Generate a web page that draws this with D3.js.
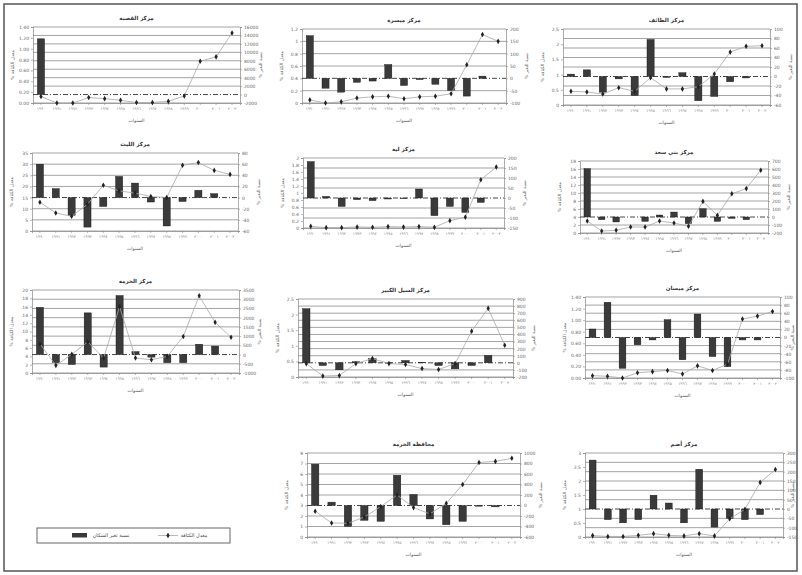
<!DOCTYPE html>
<html>
<head>
<meta charset="utf-8">
<script src="https://cdn.jsdelivr.net/npm/d3@7"></script>
<style>
  body { margin: 0; background: #fff; }
  svg { display: block; }
  text { font-family: "DejaVu Sans", sans-serif; }
  .ar { direction: rtl; unicode-bidi: plaintext; }
</style>
</head>
<body>
<div id="chart"></div>
<script>
// السنوات (محور س)
var years = ["١٩٩٠", "١٩٩١", "١٩٩٢", "١٩٩٣", "١٩٩٤", "١٩٩٥", "١٩٩٦", "١٩٩٧", "١٩٩٨", "١٩٩٩", "٢٠٠٠", "٢٠٠١", "٢٠٠٢"];

var titles = ["مركز القصبة", "مركز ميسرة", "مركز الطائف", "مركز الليث", "مركز لية", "مركز بني سعد",
              "مركز الخرمة", "مركز السيل الكبير", "مركز ميسان", "محافظة الخرمة", "مركز أضم"];

// المحور الأيسر: معدل الكثافة
var leftTicks = [
  [0, 0.2, 0.4, 0.6, 0.8, 1.0, 1.2, 1.4],
  [0, 0.2, 0.4, 0.6, 0.8, 1, 1.2],
  [0, 0.5, 1, 1.5, 2, 2.5],
  [0, 5, 10, 15, 20, 25, 30, 35],
  [0, 0.2, 0.4, 0.6, 0.8, 1, 1.2, 1.4, 1.6, 1.8, 2],
  [0, 2, 4, 6, 8, 10, 12, 14, 16, 18],
  [0, 2, 4, 6, 8, 10, 12, 14, 16, 18, 20],
  [0, 0.5, 1, 1.5, 2, 2.5],
  [0, 0.2, 0.4, 0.6, 0.8, 1.0, 1.2, 1.4],
  [0, 1, 2, 3, 4, 5, 6, 7, 8],
  [0, 0.5, 1, 1.5, 2, 2.5, 3]
];
var leftFormat = [".2f", "", "", "", "", "", "", "", ".2f", "", ""];

// المحور الأيمن: نسبة التغير %
var rightTicks = [
  [-2000, 0, 2000, 4000, 6000, 8000, 10000, 12000, 14000, 16000],
  [-100, -50, 0, 50, 100, 150, 200],
  [-60, -40, -20, 0, 20, 40, 60, 80, 100],
  [-60, -40, -20, 0, 20, 40, 60, 80],
  [-150, -100, -50, 0, 50, 100, 150, 200],
  [-200, -100, 0, 100, 200, 300, 400, 500, 600, 700],
  [-1000, -500, 0, 500, 1000, 1500, 2000, 2500, 3000, 3500],
  [-200, -100, 0, 100, 200, 300, 400, 500, 600, 700, 800, 900],
  [-100, -80, -60, -40, -20, 0, 20, 40, 60, 80, 100],
  [-600, -400, -200, 0, 200, 400, 600, 800, 1000],
  [-150, -100, -50, 0, 50, 100, 150, 200, 250, 300]
];

// نسبة تغير السكان (أعمدة، المحور الأيمن)
var barValues = [
  [13200, 0, 0, 0, 0, 0, 0, 0, 0, 0, 0, 0, 0],
  [173, -40, -56, -16, -11, 56, -29, -5, -24, -49, -72, 9, 0],
  [5, 14, -33, -5, -40, 78, -2, 8, -51, -42, -11, -3, 0],
  [60, 16, -32, -53, -16, 38, 26, -8, -51, -7, 13, 7, 0],
  [182, 8, -42, -8, -13, -5, -3, 45, -88, -42, -72, -22, 0],
  [604, -33, -62, 0, -54, 25, 62, -83, 104, -54, -17, -33, 0],
  [2560, -440, -540, 2260, -680, 3200, 160, -140, -440, -440, 560, 460, 0],
  [764, -38, -99, 15, 57, -5, 33, 5, -38, -85, -38, 104, 0],
  [21, 87, -76, -18, -6, 44, -55, 58, -47, -72, -6, -6, 0],
  [787, 64, -397, -282, -301, 576, 211, -256, -365, -301, -13, -26, 0],
  [262, -57, -74, -57, 74, 32, -74, 213, -97, -50, -57, -30, 0]
];

// معدل الكثافة (خط، المحور الأيسر)
var lineValues = [
  [0.12, 0, 0, 0.1, 0.08, 0.05, 0.01, 0.01, 0.03, 0.13, 0.77, 0.85, 1.29],
  [0.05, 0, 0.02, 0.08, 0.1, 0.11, 0.07, 0.1, 0.11, 0.15, 0.62, 1.11, 1.0],
  [0.45, 0.43, 0.36, 0.57, 0.45, 0.9, 0.53, 0.53, 0.6, 1.02, 1.74, 1.93, 1.95],
  [12.9, 8.1, 6.6, 12, 20.5, 18, 17, 15.5, 15, 29.5, 30.7, 27.2, 25.4],
  [0.05, 0.01, 0.01, 0.03, 0.02, 0.04, 0.03, 0.04, 0.02, 0.21, 0.31, 1.38, 1.74],
  [3.0, 0.5, 0.67, 1.5, 1.5, 3.0, 2.5, 1.67, 7.9, 4.4, 9.8, 11.1, 15.7],
  [7, 1.84, 4.5, 7.5, 3.6, 16, 3.6, 3.2, 4, 8.8, 18.6, 12.2, 8.6],
  [0.43, 0.03, 0.05, 0.43, 0.59, 0.43, 0.4, 0.27, 0.24, 0.43, 1.47, 2.2, 1.02],
  [0.04, 0.03, 0.0, 0.09, 0.11, 0.13, 0.07, 0.21, 0.13, 0.24, 1.02, 1.07, 1.15],
  [2.46, 1.34, 1.3, 1.9, 2.9, 4.0, 2.8, 2.2, 3.2, 5.0, 7.1, 7.2, 7.5],
  [0.05, 0.02, 0.02, 0.06, 0.12, 0.06, 0.04, 0.12, 0.04, 0.65, 0.99, 1.95, 2.41]
];

var legendLabels = ["نسبة تغير السكان", "معدل الكثافة"];

// مواقع مناطق الرسم [x0, x1, y0, y1]
var boxes = [
  [33, 240, 27, 103], [302, 506, 29, 103], [563, 770, 29, 105],
  [32, 238, 153, 231], [303, 504, 158, 228], [580, 768, 161, 233],
  [32, 239, 290, 373], [298, 513, 299, 377], [585, 780, 297, 378],
  [307, 520, 453, 537], [585, 783, 453, 537]
];

var svg = d3.select("#chart")
            .append("svg")
            .attr("width", 802)
            .attr("height", 575);

// الإطار الخارجي
svg.append("rect")
   .attr("x", 4).attr("y", 4)
   .attr("width", 793).attr("height", 567)
   .attr("fill", "none")
   .attr("stroke", "#555")
   .attr("stroke-width", 1.5);

boxes.forEach(function(b, i) {
    var g = svg.append("g");

    var x = d3.scaleBand()
              .domain(years)
              .range([b[0], b[1]])
              .paddingInner(0.55)
              .paddingOuter(0.275);

    var yR = d3.scaleLinear().domain(d3.extent(rightTicks[i])).range([b[3], b[2]]);
    var yL = d3.scaleLinear().domain(d3.extent(leftTicks[i])).range([b[3], b[2]]);

    // خطوط الشبكة
    g.selectAll(".grid")
     .data(rightTicks[i].filter(function(d) { return d !== 0; }))
     .enter()
     .append("line")
     .attr("x1", b[0]).attr("x2", b[1])
     .attr("y1", function(d) { return yR(d); })
     .attr("y2", function(d) { return yR(d); })
     .attr("stroke", "#7d7d7d")
     .attr("stroke-width", 0.7);

    // المحاور
    var fmt = leftFormat[i] ? d3.format(leftFormat[i]) : function(d) { return String(d); };
    var axL = g.append("g")
               .attr("transform", "translate(" + b[0] + ",0)")
               .call(d3.axisLeft(yL).tickValues(leftTicks[i]).tickSize(2).tickPadding(2).tickFormat(fmt));
    var axR = g.append("g")
               .attr("transform", "translate(" + b[1] + ",0)")
               .call(d3.axisRight(yR).tickValues(rightTicks[i]).tickSize(2).tickPadding(2).tickFormat(function(d) { return String(d); }));
    var axB = g.append("g")
               .attr("transform", "translate(0," + b[3] + ")")
               .call(d3.axisBottom(x).tickSize(2).tickPadding(2));

    [axL, axR, axB].forEach(function(a) {
        a.selectAll("path").attr("stroke", "#888").attr("stroke-width", 0.7);
        a.selectAll("line").attr("stroke", "#888").attr("stroke-width", 0.6);
        a.selectAll("text").attr("fill", "#666").style("font-size", "4.5px");
    });
    axB.selectAll("text").style("font-size", "4px").attr("fill", "#888");

    // الأعمدة
    g.selectAll(".bar")
     .data(barValues[i])
     .enter()
     .append("rect")
     .attr("x", function(d, j) { return x(years[j]); })
     .attr("y", function(d) { return Math.min(yR(d), yR(0)); })
     .attr("width", x.bandwidth())
     .attr("height", function(d) { return Math.abs(yR(d) - yR(0)); })
     .attr("fill", "#3a3a3a")
     .attr("stroke", "#111")
     .attr("stroke-width", 0.4);

    // خط الصفر المتقطع
    g.append("line")
     .attr("x1", b[0]).attr("x2", b[1])
     .attr("y1", yR(0)).attr("y2", yR(0))
     .attr("stroke", "#333")
     .attr("stroke-width", 0.9)
     .attr("stroke-dasharray", "5,2,1,2");

    // خط معدل الكثافة
    var line = d3.line()
                 .x(function(d, j) { return x(years[j]) + x.bandwidth() / 2; })
                 .y(function(d) { return yL(d); });

    g.append("path")
     .datum(lineValues[i])
     .attr("d", line)
     .attr("fill", "none")
     .attr("stroke", "#a8a8a8")
     .attr("stroke-width", 0.8);

    g.selectAll(".pt")
     .data(lineValues[i])
     .enter()
     .append("path")
     .attr("transform", function(d, j) {
         return "translate(" + (x(years[j]) + x.bandwidth() / 2) + "," + yL(d) + ")";
     })
     .attr("d", d3.symbol().type(d3.symbolDiamond).size(9))
     .attr("fill", "#222");

    // العناوين
    var mid = (b[0] + b[1]) / 2;
    var midY = (b[2] + b[3]) / 2;

    g.append("text")
     .attr("class", "ar")
     .attr("x", mid).attr("y", b[2] - 7)
     .attr("text-anchor", "middle")
     .attr("fill", "#333")
     .style("font-size", "5.5px")
     .style("font-weight", "bold")
     .text(titles[i]);

    g.append("text")
     .attr("class", "ar")
     .attr("x", mid).attr("y", b[3] + 19)
     .attr("text-anchor", "middle")
     .attr("fill", "#555")
     .style("font-size", "4.5px")
     .text("السنوات");

    g.append("text")
     .attr("class", "ar")
     .attr("transform", "translate(" + (b[0] - 19) + "," + midY + ") rotate(-90)")
     .attr("text-anchor", "middle")
     .attr("fill", "#666")
     .style("font-size", "4.5px")
     .text("معدل الكثافة %");

    g.append("text")
     .attr("class", "ar")
     .attr("transform", "translate(" + Math.min(b[1] + 22, 794) + "," + midY + ") rotate(-90)")
     .attr("text-anchor", "middle")
     .attr("fill", "#666")
     .style("font-size", "4.5px")
     .text("نسبة التغير %");
});

// وسيلة الإيضاح
var lg = svg.append("g");
lg.append("rect")
  .attr("x", 37).attr("y", 528)
  .attr("width", 193).attr("height", 15)
  .attr("fill", "#fff")
  .attr("stroke", "#666")
  .attr("stroke-width", 1);

lg.append("rect")
  .attr("x", 72).attr("y", 533)
  .attr("width", 15).attr("height", 4.5)
  .attr("fill", "#3a3a3a");

lg.append("text")
  .attr("class", "ar")
  .attr("x", 111).attr("y", 537)
  .attr("text-anchor", "middle")
  .attr("fill", "#444")
  .style("font-size", "5px")
  .text(legendLabels[0]);

lg.append("line")
  .attr("x1", 158).attr("x2", 178)
  .attr("y1", 535.5).attr("y2", 535.5)
  .attr("stroke", "#a8a8a8")
  .attr("stroke-width", 0.8);

lg.append("path")
  .attr("transform", "translate(168,535.5)")
  .attr("d", d3.symbol().type(d3.symbolDiamond).size(9))
  .attr("fill", "#222");

lg.append("text")
  .attr("class", "ar")
  .attr("x", 194).attr("y", 537)
  .attr("text-anchor", "middle")
  .attr("fill", "#444")
  .style("font-size", "5px")
  .text(legendLabels[1]);
</script>
</body>
</html>
